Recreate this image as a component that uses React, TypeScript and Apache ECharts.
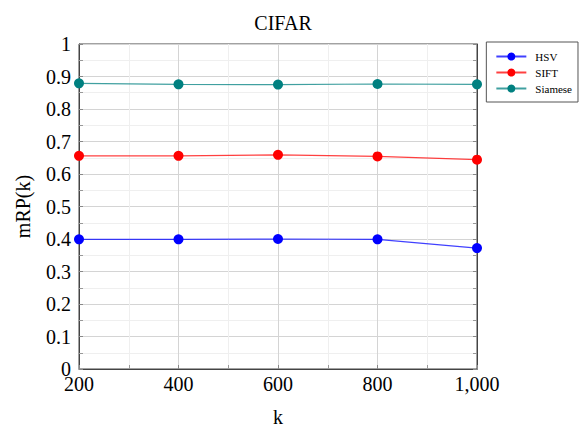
import React, { useEffect, useRef } from "react";
import * as echarts from "echarts";

const kValues = [200, 400, 600, 800, 1000];
const hsv = [0.399, 0.399, 0.4, 0.399, 0.372];
const sift = [0.656, 0.656, 0.659, 0.654, 0.644];
const siamese = [0.879, 0.876, 0.875, 0.877, 0.876];
const seriesNames = ["HSV", "SIFT", "Siamese"];
const colors = ["#0000ff", "#ff0000", "#008080"];

const FONT = "Liberation Serif";

export default function App() {
  const ref = useRef<HTMLDivElement>(null);
  useEffect(() => {
    if (!ref.current) return;
    const chart = echarts.init(ref.current, null, { renderer: "svg" });
    const datas = [hsv, sift, siamese];
    const tickCommon = {
      axisTick: { show: true, inside: true, length: 4, lineStyle: { color: "#888" } },
      minorTick: { show: true, splitNumber: 2, length: 4, lineStyle: { color: "#999" } },
    };
    chart.setOption({
      animation: false,
      backgroundColor: "#fff",
      title: {
        text: "CIFAR",
        left: 278,
        textAlign: "center",
        top: 8,
        textStyle: { fontFamily: FONT, fontSize: 20, fontWeight: "normal", color: "#000" },
      },
      grid: {
        left: 79,
        right: 102,
        top: 44,
        bottom: 57,
        show: true,
        borderColor: "#444",
        borderWidth: 1,
        backgroundColor: "transparent",
      },
      legend: {
        orient: "vertical",
        right: 1,
        top: 42,
        padding: [9, 6, 8, 9],
        itemGap: 5,
        itemWidth: 30,
        itemHeight: 10,
        borderColor: "#555",
        borderWidth: 1,
        textStyle: { fontFamily: FONT, fontSize: 11, color: "#000", padding: [0, 0, 0, 4] },
        data: seriesNames,
      },
      xAxis: {
        type: "value",
        min: 200,
        max: 1000,
        interval: 200,
        name: "k",
        nameLocation: "middle",
        nameGap: 38,
        nameTextStyle: { fontFamily: FONT, fontSize: 20, color: "#000" },
        axisLine: { show: true, lineStyle: { color: "#444" } },
        ...tickCommon,
        splitLine: { show: true, lineStyle: { color: "#d4d4d4" } },
        minorSplitLine: { show: true, lineStyle: { color: "#efefef" } },
        axisLabel: {
          fontFamily: FONT,
          fontSize: 20,
          color: "#000",
          margin: 5,
          formatter: (v: number) => v.toLocaleString("en-US"),
        },
      },
      yAxis: [
        {
          type: "value",
          min: 0,
          max: 1,
          interval: 0.1,
          name: "mRP(k)",
          nameLocation: "middle",
          nameGap: 46,
          nameTextStyle: { fontFamily: FONT, fontSize: 20, color: "#000" },
          axisLine: { show: true, lineStyle: { color: "#444" } },
          ...tickCommon,
          splitLine: { show: true, lineStyle: { color: "#d4d4d4" } },
          minorSplitLine: { show: true, lineStyle: { color: "#efefef" } },
          axisLabel: {
            fontFamily: FONT,
            fontSize: 20,
            color: "#000",
            margin: 8,
            formatter: (v: number) => String(Math.round(v * 10) / 10),
          },
        },
        {
          type: "value",
          position: "right",
          min: 0,
          max: 1,
          interval: 0.1,
          axisLine: { show: true, lineStyle: { color: "#444" } },
          ...tickCommon,
          splitLine: { show: false },
          axisLabel: { show: false },
        },
      ],
      series: seriesNames.map((name, i) => ({
        name,
        type: "line",
        yAxisIndex: 0,
        data: kValues.map((k, j) => [k, datas[i][j]]),
        symbol: "circle",
        symbolSize: 10,
        itemStyle: { color: colors[i] },
        lineStyle: { color: colors[i], width: 1.2, opacity: 0.75 },
      })),
    });
    return () => chart.dispose();
  }, []);
  return <div ref={ref} style={{ width: 579, height: 432, position: "absolute", left: 0, top: 0 }} />;
}
